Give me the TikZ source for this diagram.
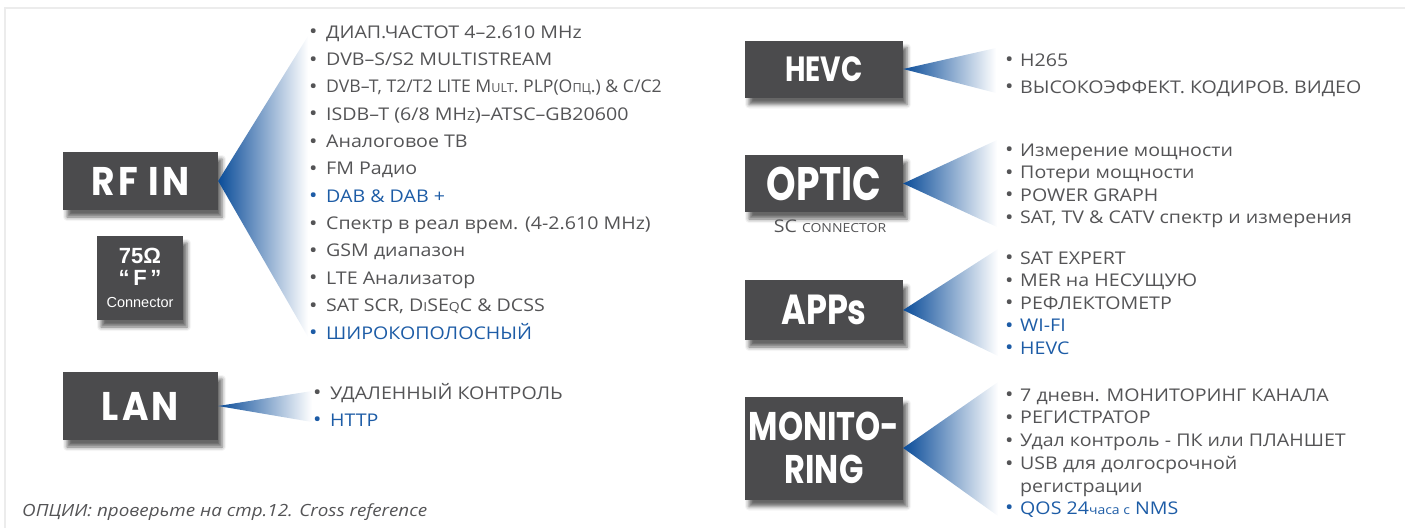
\documentclass[tikz,border=0pt]{standalone}
\usepackage{fontspec}
\usepackage{graphicx}
\usetikzlibrary{shadows.blur}
\setmainfont{Open Sans}[FakeStretch=1.12]
\newfontfamily\headfont{Poppins}[FakeStretch=0.9, LetterSpace=8]
\newfontfamily\headcond{Poppins}[FakeStretch=0.8]
\newfontfamily\arialfont{Liberation Sans}
\definecolor{boxgray}{HTML}{4B4B4D}
\definecolor{tgray}{HTML}{545456}
\definecolor{tblue}{HTML}{1D5CA6}
\definecolor{wblue}{HTML}{0A4C99}
\definecolor{framegray}{HTML}{ECECEC}
\newcommand\itemfont{\fontsize{17.5}{20}\selectfont}
\newcommand\smc[1]{{\fontsize{12.5}{14}\selectfont #1}}
\newcommand\bigbul{\raisebox{-0.6pt}{\fontsize{20}{20}\selectfont\textbullet}}
\newcommand\lb{\makebox[17pt][l]{\bigbul}}
\newcommand\rb{\makebox[15pt][l]{\bigbul}}
\tikzset{
  x=1pt, y=-1pt,
  box/.style={fill=boxgray, text=white, inner sep=0pt, align=center,
    blur shadow={shadow xshift=4pt, shadow yshift=-7pt, shadow blur radius=4pt, shadow opacity=60}},
  itm/.style={anchor=base west, inner sep=0pt, text=tgray, font=\itemfont},
  bitm/.style={itm, text=tblue},
  wedge/.style={left color=wblue, right color=white}
}
\begin{document}
\begin{tikzpicture}
\useasboundingbox (0,0) rectangle (1405,528);
% faint frame
\draw[framegray, line width=1.5pt] (5,528) -- (5,8) -- (1405,8);

% ---------- boxes ----------
\node[box, minimum width=155pt, minimum height=58pt,
  font=\headfont\bfseries\fontsize{40}{40}\selectfont] (rfin) at (140.5,181) {RF IN};
\node[box, minimum width=86pt, minimum height=84pt,
  font=\arialfont\bfseries\fontsize{22}{22}\selectfont] (conn) at (140,278)
  {75Ω\\“\,F\,”\\{\mdseries\fontsize{14.5}{16}\selectfont Connector}};
\node[box, minimum width=155pt, minimum height=68pt,
  font=\headfont\bfseries\fontsize{40}{40}\selectfont] (lan) at (140.5,406) {LAN};

\node[box, minimum width=158pt, minimum height=57pt,
  font=\headcond\bfseries\fontsize{35}{35}\selectfont] (hevc) at (824,69) {HEVC};
\node[box, minimum width=158pt, minimum height=57pt,
  font=\headcond\bfseries\fontsize{47}{47}\selectfont] (optic) at (824,183.5) {OPTIC};
\node[text=tgray, inner sep=0pt, anchor=base] (sc) at (830,232)
  {\itemfont SC \smc{CONNECTOR}};
\node[box, minimum width=158pt, minimum height=60pt,
  font=\headcond\bfseries\fontsize{42}{42}\selectfont] (apps) at (824,310) {APPs};
\node[box, minimum width=158pt, minimum height=103pt,
  font=\headcond\bfseries\fontsize{40}{43}\selectfont] (mon) at (824,448) {MONITO-\\RING};

% ---------- wedges ----------
\coordinate (rfT) at (308,36);  \coordinate (rfB) at (308,337);
\coordinate (lanT) at (312,391); \coordinate (lanB) at (312,422);
\coordinate (hvT) at (996,48);  \coordinate (hvB) at (996,93);
\coordinate (opT) at (997,140); \coordinate (opB) at (997,227);
\coordinate (apT) at (998,249); \coordinate (apB) at (998,356);
\coordinate (moT) at (998,382); \coordinate (moB) at (998,516);
\shade[wedge] (rfin.east) -- (rfT) -- (rfB) -- cycle;
\shade[wedge] (lan.east) -- (lanT) -- (lanB) -- cycle;
\shade[wedge] (hevc.east) -- (hvT) -- (hvB) -- cycle;
\shade[wedge] (optic.east) -- (opT) -- (opB) -- cycle;
\shade[wedge] (apps.east) -- (apT) -- (apB) -- cycle;
\shade[wedge] (mon.east) -- (moT) -- (moB) -- cycle;

% ---------- RF IN list ----------
\node[itm]  (r1)  at (309,38)  {\lb ДИАП.ЧАСТОТ 4–2.610 MHz};
\node[itm]  (r2)  at (309,65.4) {\lb DVB–S/S2 MULTISTREAM};
\node[itm]  (r3)  at (309,92.7) {\lb \scalebox{0.9}[1]{DVB–T, T2/T2 LITE M\smc{ULT}. PLP(О\smc{ПЦ}.) \& C/C2}};
\node[itm]  (r4)  at (309,120.1) {\lb ISDB–T (6/8 MH\smc{Z})–ATSC–GB20600};
\node[itm]  (r5)  at (309,147.4) {\lb Аналоговое ТВ};
\node[itm]  (r6)  at (309,174.8) {\lb FM Радио};
\node[bitm] (r7)  at (309,202.2) {\lb DAB \& DAB +};
\node[itm]  (r8)  at (309,229.5) {\lb Спектр в реал врем. (4-2.610 MHz)};
\node[itm]  (r9)  at (309,256.9) {\lb GSM диапазон};
\node[itm]  (r10) at (309,284.2) {\lb LTE Анализатор};
\node[itm]  (r11) at (309,311.6) {\lb SAT SCR, D\smc{I}SE\smc{Q}C \& DCSS};
\node[bitm] (r12) at (309,339)  {\lb ШИРОКОПОЛОСНЫЙ};

% ---------- LAN list ----------
\node[itm]  (l1) at (313,399) {\lb УДАЛЕННЫЙ КОНТРОЛЬ};
\node[bitm] (l2) at (313,426) {\lb HTTP};

% ---------- HEVC list ----------
\node[itm] (h1) at (1005,66) {\rb H265};
\node[itm] (h2) at (1005,93) {\rb ВЫСОКОЭФФЕКТ. КОДИРОВ. ВИДЕО};

% ---------- OPTIC list ----------
\node[itm] (o1) at (1005,156) {\rb Измерение мощности};
\node[itm] (o2) at (1005,178.5) {\rb Потери мощности};
\node[itm] (o3) at (1005,201) {\rb POWER GRAPH};
\node[itm] (o4) at (1005,223.5) {\rb SAT, TV \& CATV спектр и измерения};

% ---------- APPs list ----------
\node[itm]  (a1) at (1005,264) {\rb SAT EXPERT};
\node[itm]  (a2) at (1005,286.5) {\rb MER на НЕСУЩУЮ};
\node[itm]  (a3) at (1005,309) {\rb РЕФЛЕКТОМЕТР};
\node[bitm] (a4) at (1005,331.5) {\rb WI-FI};
\node[bitm] (a5) at (1005,354) {\rb HEVC};

% ---------- MONITORING list ----------
\node[itm]  (m1) at (1005,401) {\rb 7 дневн. МОНИТОРИНГ КАНАЛА};
\node[itm]  (m2) at (1005,423.5) {\rb РЕГИСТРАТОР};
\node[itm]  (m3) at (1005,446.5) {\rb Удал контроль - ПК или ПЛАНШЕТ};
\node[itm]  (m4) at (1005,469.5) {\rb USB для долгосрочной};
\node[itm]  (m4b) at (1020,492) {регистрации};
\node[bitm] (m5) at (1005,514) {\rb QOS 24\smc{часа с} NMS};

% ---------- footnote ----------
\node[anchor=base west, inner sep=0pt, text=tgray] (foot) at (22,516)
  {\itshape\fontsize{16.8}{18}\selectfont ОПЦИИ: проверьте на стр.12. Cross reference};
\end{tikzpicture}
\end{document}
